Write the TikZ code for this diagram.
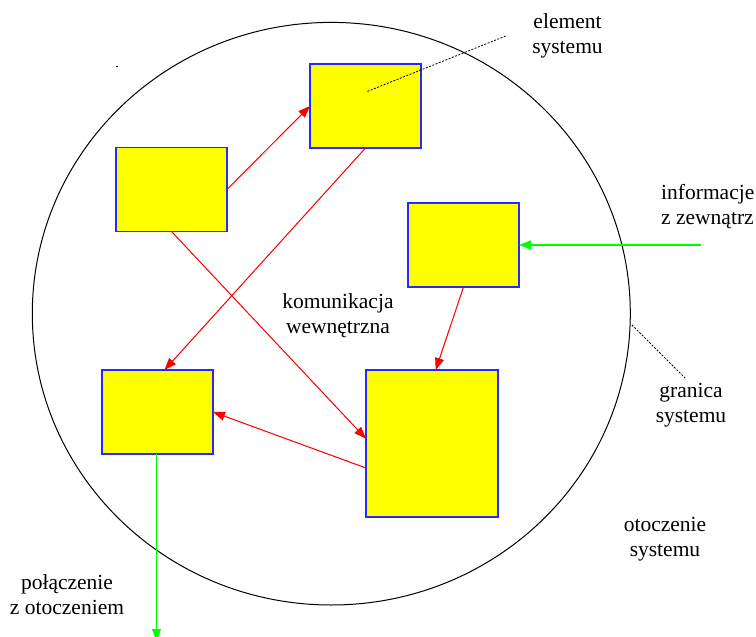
\documentclass[tikz,border=0pt]{standalone}
\usepackage{fontspec}
\setmainfont{Liberation Serif}
\usetikzlibrary{arrows.meta,calc}
\definecolor{boxfill}{RGB}{255,255,0}
\definecolor{boxline}{RGB}{40,40,255}
\definecolor{flowred}{RGB}{255,0,0}
\definecolor{flowgreen}{RGB}{0,255,0}
\tikzset{
  element/.style={draw=boxline, fill=boxfill, line width=1.1pt, rectangle,
    inner sep=0pt, outer sep=0pt, minimum width=111pt, minimum height=84pt},
  inner flow/.style={draw=flowred, line width=1pt,
    -{Triangle[length=12pt,width=9pt]}, fill=flowred},
  outer flow/.style={draw=flowgreen, line width=1.3pt,
    -{Triangle[length=12pt,width=9pt]}, fill=flowgreen},
  pointer/.style={draw=black, line width=0.8pt, dash pattern=on 2pt off 1.5pt},
  caption/.style={font=\fontsize{21.5}{25}\selectfont, inner sep=0pt, align=center, anchor=base}
}
\begin{document}
\begin{tikzpicture}[x=1pt,y=-1pt]
  \useasboundingbox (0,0) rectangle (756,637);

  % system boundary
  \draw[line width=1pt] (331.3,313.7) ellipse [x radius=299, y radius=291.3];

  % system elements
  \node[element] (A) at (171.5,189.5) {};
  \node[element] (B) at (365.5,106) {};
  \node[element] (C) at (463.5,245) {};
  \node[element] (D) at (157.5,412) {};
  \node[element, minimum width=132pt, minimum height=147pt] (E) at (432,443.5) {};

  % internal communication
  \draw[inner flow] (A.east) -- (B.west);
  \draw[inner flow] (B.south) -- ([xshift=7pt]D.north);
  \draw[inner flow] (A.south) -- ([yshift=4.8pt]E.west);
  \draw[inner flow] (C.south) -- ([xshift=3.7pt]E.north);
  \draw[inner flow] ([yshift=-24.5pt]E.west) -- (D.east);

  % links with the environment
  \coordinate (inSrc) at (701,245);
  \coordinate (outDst) at (156.5,641);
  \draw[outer flow] (inSrc) -- (C.east);
  \draw[outer flow] ([xshift=-1pt]D.south) -- (outDst);

  % pointer lines
  \coordinate (elemTip) at (505.7,36);
  \coordinate (elemEnd) at (366,92);
  \draw[pointer] (elemTip) -- (elemEnd);
  \coordinate (bndA) at (632,325);
  \coordinate (bndB) at (685,378);
  \draw[pointer] (bndA) -- (bndB);

  % small stray mark
  \fill (116,65.5) rectangle (118,66.5);

  % labels (base anchor sits on the last line)
  \node[caption] (lElem) at (567.5,53) {element\\systemu};
  \node[caption, anchor=base west, align=left] (lInfo) at (661,224) {informacje\\z zewnątrz};
  \node[caption] (lKom) at (338,333) {komunikacja\\wewnętrzna};
  \node[caption] (lGran) at (691,422) {granica\\systemu};
  \node[caption] (lOtocz) at (665,556) {otoczenie\\systemu};
  \node[caption] (lPol) at (67,614.3) {połączenie\\z otoczeniem};
\end{tikzpicture}
\end{document}
